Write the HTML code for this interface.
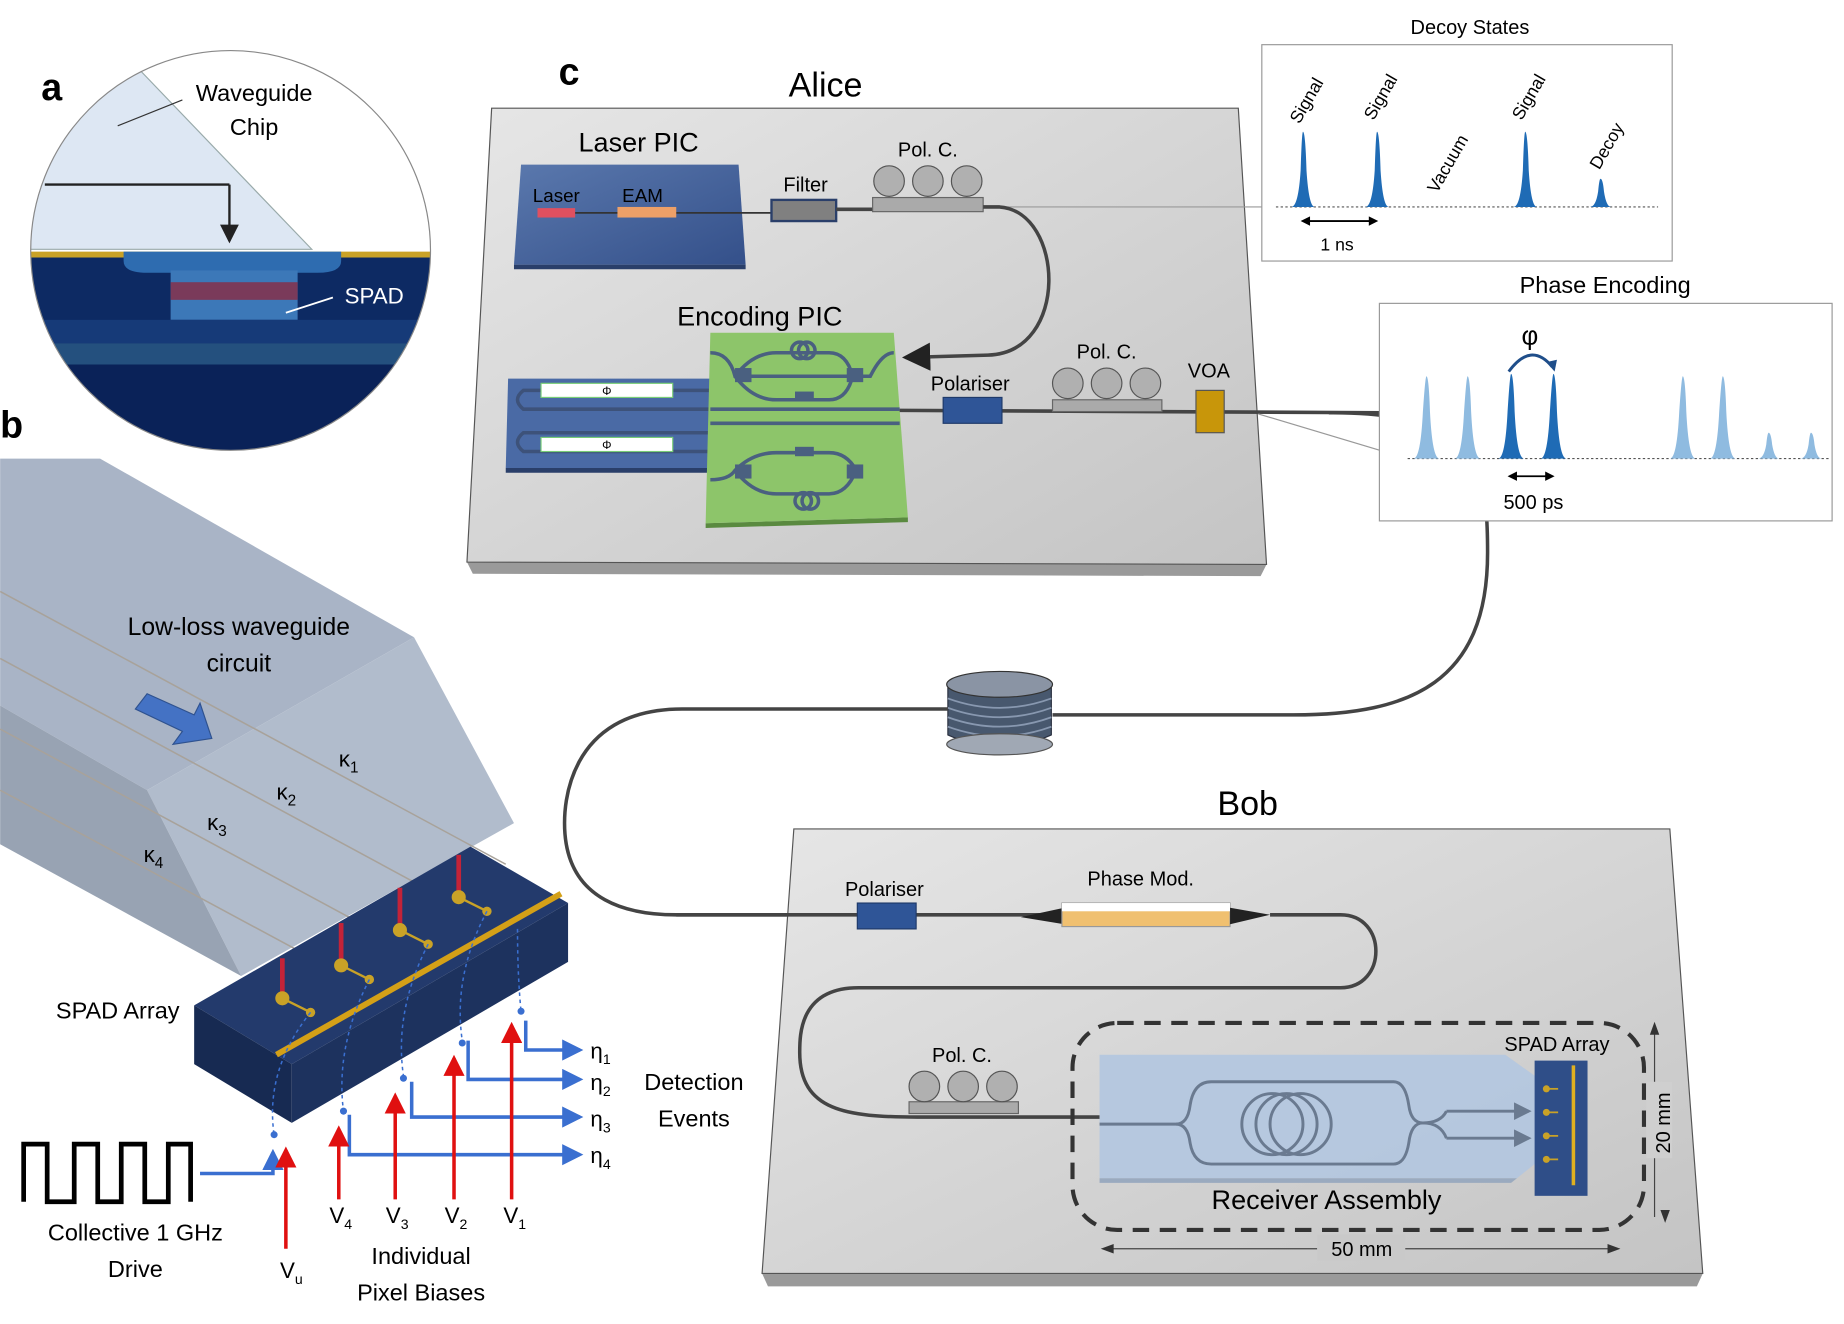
<!DOCTYPE html>
<html><head><meta charset="utf-8"><style>html,body{margin:0;padding:0;background:#fff}svg{display:block}text{font-family:"Liberation Sans",sans-serif}</style></head><body>
<svg width="1844" height="1324" viewBox="0 0 1568 1126" xmlns="http://www.w3.org/2000/svg">
<defs>
<clipPath id="cc"><circle cx="196" cy="213" r="170"/></clipPath>
<linearGradient id="bd" x1="0" y1="0" x2="1" y2="1"><stop offset="0" stop-color="#e6e6e6"/><stop offset="1" stop-color="#c4c4c4"/></linearGradient>
<linearGradient id="bl" x1="0" y1="0" x2="1" y2="1"><stop offset="0" stop-color="#5a78ad"/><stop offset="1" stop-color="#34508a"/></linearGradient>
<marker id="ak" markerWidth="8" markerHeight="8" refX="7" refY="4" orient="auto"><path d="M0,0L8,4L0,8z" fill="#222"/></marker>
<marker id="ar" markerWidth="6" markerHeight="6" refX="5" refY="3" orient="auto"><path d="M0,0L6,3L0,6z" fill="#e01010"/></marker>
<marker id="ab" markerWidth="6" markerHeight="6" refX="5" refY="3" orient="auto"><path d="M0,0L6,3L0,6z" fill="#3a6fd0"/></marker>
<marker id="ag" markerWidth="6" markerHeight="6" refX="5" refY="3" orient="auto"><path d="M0,0L6,3L0,6z" fill="#6a7a90"/></marker>
</defs>

<!-- panel a -->
<g clip-path="url(#cc)">
<rect x="20" y="40" width="360" height="350" fill="#fff"/>
<polygon points="20,40 100,40 265,212 20,212" fill="#dde7f3" stroke="#9aa" stroke-width="1"/>
<rect x="20" y="214" width="360" height="5" fill="#c9a227"/>
<rect x="20" y="219" width="360" height="170" fill="#0d2a63"/>
<path d="M105,214 H290 V222 Q290,232 270,232 H125 Q105,232 105,222z" fill="#2e6cb0"/>
<rect x="145" y="230" width="108" height="42" fill="#3c78b8"/>
<rect x="145" y="240" width="108" height="15" fill="#7a3a5a"/>
<rect x="20" y="272" width="360" height="20" fill="#163a78"/>
<rect x="20" y="292" width="360" height="18" fill="#24507e"/>
<rect x="20" y="310" width="360" height="80" fill="#0a2258"/>
</g>
<circle cx="196" cy="213" r="170" fill="none" stroke="#888" stroke-width="1"/>
<line x1="38" y1="157" x2="195" y2="157" stroke="#222" stroke-width="2"/>
<line x1="195" y1="157" x2="195" y2="205" stroke="#222" stroke-width="2" marker-end="url(#ak)"/>
<line x1="100" y1="107" x2="155" y2="85" stroke="#333" stroke-width="1"/>
<text x="216" y="86" font-size="20" text-anchor="middle">Waveguide</text>
<text x="216" y="115" font-size="20" text-anchor="middle">Chip</text>
<line x1="243" y1="266" x2="283" y2="253" stroke="#fff" stroke-width="1.5"/>
<text x="293" y="258" font-size="19" fill="#fff">SPAD</text>
<text x="35" y="85" font-size="32" font-weight="bold">a</text>

<!-- panel b -->
<text x="0" y="372" font-size="32" font-weight="bold">b</text>
<polygon points="0,390 85,390 352,542 125,672 0,600" fill="#a9b4c6"/>
<polygon points="125,672 352,542 437,700 205,830" fill="#b1bccc"/>
<polygon points="0,600 125,672 205,830 0,718" fill="#98a3b3"/>
<g stroke="#a8a29a" stroke-width="1.3">
<line x1="0" y1="503" x2="430" y2="735"/>
<line x1="0" y1="560" x2="385" y2="768"/>
<line x1="0" y1="620" x2="330" y2="798"/>
<line x1="0" y1="672" x2="275" y2="820"/>
</g>
<polygon points="125,590 165,608 170,598 180,628 147,633 155,622 115,603" fill="#4472c4" stroke="#2f528f"/>
<text x="203" y="540" font-size="21" text-anchor="middle">Low-loss waveguide</text>
<text x="203" y="571" font-size="21" text-anchor="middle">circuit</text>
<text x="288" y="652" font-size="19">κ<tspan font-size="13" dy="5">1</tspan></text>
<text x="235" y="680" font-size="19">κ<tspan font-size="13" dy="5">2</tspan></text>
<text x="176" y="706" font-size="19">κ<tspan font-size="13" dy="5">3</tspan></text>
<text x="122" y="733" font-size="19">κ<tspan font-size="13" dy="5">4</tspan></text>
<!-- SPAD block -->
<polygon points="165,855 400,720 483,768 248,905" fill="#233a6c"/>
<polygon points="165,855 248,905 248,955 165,905" fill="#172a52"/>
<polygon points="248,905 483,768 483,818 248,955" fill="#1d325e"/>
<line x1="235" y1="897" x2="477" y2="760" stroke="#d4a017" stroke-width="5"/>
<g stroke="#e02030" stroke-width="4" opacity="0.85">
<line x1="240" y1="815" x2="240" y2="848"/><line x1="290" y1="785" x2="290" y2="820"/>
<line x1="340" y1="755" x2="340" y2="790"/><line x1="390" y1="727" x2="390" y2="762"/>
</g>
<g fill="#c9a227" stroke="#c9a227" stroke-width="2">
<circle cx="240" cy="849" r="5"/><line x1="240" y1="849" x2="262" y2="860"/><circle cx="264" cy="861" r="3"/>
<circle cx="290" cy="821" r="5"/><line x1="290" y1="821" x2="312" y2="832"/><circle cx="314" cy="833" r="3"/>
<circle cx="340" cy="791" r="5"/><line x1="340" y1="791" x2="362" y2="802"/><circle cx="364" cy="803" r="3"/>
<circle cx="390" cy="763" r="5"/><line x1="390" y1="763" x2="412" y2="774"/><circle cx="414" cy="775" r="3"/>
</g>
<g fill="none" stroke="#3a6fd0" stroke-width="1.3" stroke-dasharray="3,3">
<path d="M264,861 Q225,910 233,965"/><path d="M314,833 Q285,890 292,945"/>
<path d="M364,803 Q335,860 343,915"/><path d="M414,775 Q385,830 393,885"/><path d="M440,790 Q440,830 443,860"/>
</g>
<g fill="#3a6fd0"><circle cx="233" cy="965" r="3"/><circle cx="292" cy="945" r="3"/><circle cx="343" cy="917" r="3"/><circle cx="393" cy="887" r="3"/><circle cx="443" cy="860" r="3"/></g>
<g fill="none" stroke="#3a6fd0" stroke-width="3">
<path d="M447,868 V893 H493" marker-end="url(#ab)"/>
<path d="M398,885 V918 H493" marker-end="url(#ab)"/>
<path d="M350,920 V950 H493" marker-end="url(#ab)"/>
<path d="M297,948 V982 H493" marker-end="url(#ab)"/>
<path d="M170,998 H232 V980" marker-end="url(#ab)"/>
</g>
<g stroke="#e01010" stroke-width="3">
<line x1="243" y1="1062" x2="243" y2="978" marker-end="url(#ar)"/>
<line x1="288" y1="1020" x2="288" y2="960" marker-end="url(#ar)"/>
<line x1="336" y1="1020" x2="336" y2="932" marker-end="url(#ar)"/>
<line x1="386" y1="1020" x2="386" y2="900" marker-end="url(#ar)"/>
<line x1="435" y1="1020" x2="435" y2="872" marker-end="url(#ar)"/>
</g>
<path d="M20,1022 V973 H40 V1022 H63 V973 H83 V1022 H103 V973 H123 V1022 H143 V973 H162 V1022" fill="none" stroke="#000" stroke-width="4"/>
<text x="100" y="866" font-size="20" text-anchor="middle">SPAD Array</text>
<text x="115" y="1055" font-size="20" text-anchor="middle">Collective 1 GHz</text>
<text x="115" y="1086" font-size="20" text-anchor="middle">Drive</text>
<text x="238" y="1087" font-size="19">V<tspan font-size="12" dy="5">u</tspan></text>
<text x="280" y="1040" font-size="19">V<tspan font-size="12" dy="5">4</tspan></text>
<text x="328" y="1040" font-size="19">V<tspan font-size="12" dy="5">3</tspan></text>
<text x="378" y="1040" font-size="19">V<tspan font-size="12" dy="5">2</tspan></text>
<text x="428" y="1040" font-size="19">V<tspan font-size="12" dy="5">1</tspan></text>
<text x="358" y="1075" font-size="20" text-anchor="middle">Individual</text>
<text x="358" y="1106" font-size="20" text-anchor="middle">Pixel Biases</text>
<text x="502" y="900" font-size="19">η<tspan font-size="12" dy="5">1</tspan></text>
<text x="502" y="927" font-size="19">η<tspan font-size="12" dy="5">2</tspan></text>
<text x="502" y="958" font-size="19">η<tspan font-size="12" dy="5">3</tspan></text>
<text x="502" y="989" font-size="19">η<tspan font-size="12" dy="5">4</tspan></text>
<text x="590" y="927" font-size="20" text-anchor="middle">Detection</text>
<text x="590" y="958" font-size="20" text-anchor="middle">Events</text>

<!-- panel c : Alice -->
<text x="475" y="72" font-size="32" font-weight="bold">c</text>
<text x="702" y="82" font-size="29" text-anchor="middle">Alice</text>
<polygon points="397,478 1077,480 1072,490 402,488" fill="#9a9a9a"/>
<polygon points="418,92 1053,92 1077,480 397,478" fill="url(#bd)" stroke="#555" stroke-width="1"/>
<text x="543" y="129" font-size="23" text-anchor="middle">Laser PIC</text>
<polygon points="437,225 634,225 634,229 437,229" fill="#2a3f6a"/>
<polygon points="443,140 628,140 634,225 437,225" fill="url(#bl)"/>
<text x="453" y="172" font-size="16">Laser</text>
<text x="529" y="172" font-size="16">EAM</text>
<line x1="470" y1="181" x2="656" y2="181" stroke="#333" stroke-width="1.5"/>
<rect x="457" y="177" width="32" height="8" fill="#e05060"/>
<rect x="525" y="176" width="50" height="9" fill="#eda068"/>
<text x="685" y="163" font-size="17" text-anchor="middle">Filter</text>
<rect x="656" y="170" width="55" height="18" fill="#808080" stroke="#2a3f6a" stroke-width="2"/>
<line x1="711" y1="178" x2="742" y2="178" stroke="#444" stroke-width="3"/>
<text x="789" y="133" font-size="17" text-anchor="middle">Pol. C.</text>
<rect x="742" y="168" width="94" height="12" fill="#aaa" stroke="#666"/>
<g fill="#b0b0b0" stroke="#555"><circle cx="756" cy="154" r="13"/><circle cx="789" cy="154" r="13"/><circle cx="822" cy="154" r="13"/></g>
<line x1="836" y1="176" x2="1085" y2="176" stroke="#999" stroke-width="1"/>
<path d="M836,176 H850 C905,180 910,300 840,302 L770,304" fill="none" stroke="#444" stroke-width="3" marker-end="url(#ak)"/>
<polygon points="432,322 604,322 604,398 430,398" fill="#4a6aa5"/>
<polygon points="430,398 604,398 604,402 430,402" fill="#2a3f6a"/>
<g fill="none" stroke="#3d527a" stroke-width="3">
<path d="M604,332 H445 Q435,340 445,348 H604"/><path d="M604,368 H445 Q435,376 445,384 H604"/>
</g>
<rect x="460" y="326" width="112" height="12" fill="#fff" stroke="#7c7"/>
<rect x="460" y="372" width="112" height="12" fill="#fff" stroke="#7c7"/>
<text x="516" y="336" font-size="10" text-anchor="middle">Φ</text>
<text x="516" y="382" font-size="10" text-anchor="middle">Φ</text>
<text x="646" y="277" font-size="23" text-anchor="middle">Encoding PIC</text>
<polygon points="600,445 772,440 772,444 600,449" fill="#5a8a40"/>
<polygon points="604,283 760,283 772,440 600,445" fill="#8dc56a"/>
<g fill="none" stroke="#4a6080" stroke-width="3">
<path d="M604,300 Q620,300 625,320 H740 Q750,300 760,300"/>
<path d="M625,320 Q640,300 660,300 H705 Q720,300 725,320 Q720,340 705,340 H660 Q640,340 625,320"/>
<path d="M604,348 H765"/>
<path d="M604,360 H765"/>
<path d="M604,408 Q620,408 625,400 Q640,385 660,385 H705 Q720,385 728,400 Q720,420 705,420 H660 Q640,420 625,400"/>
<circle cx="680" cy="298" r="7"/><circle cx="686" cy="298" r="7"/><circle cx="683" cy="426" r="7"/><circle cx="689" cy="426" r="7"/>
</g>
<g fill="#4a6080"><rect x="625" y="313" width="14" height="12"/><rect x="720" y="313" width="14" height="12"/><rect x="676" y="333" width="16" height="8"/><rect x="676" y="380" width="16" height="8"/><rect x="625" y="395" width="14" height="12"/><rect x="720" y="395" width="14" height="12"/></g>
<line x1="765" y1="349" x2="1175" y2="351" stroke="#444" stroke-width="3"/>
<text x="825" y="332" font-size="17" text-anchor="middle">Polariser</text>
<rect x="802" y="338" width="50" height="22" fill="#2f5597" stroke="#1f3a6a"/>
<text x="941" y="305" font-size="17" text-anchor="middle">Pol. C.</text>
<rect x="895" y="340" width="93" height="10" fill="#aaa" stroke="#666"/>
<g fill="#b0b0b0" stroke="#555"><circle cx="908" cy="326" r="13"/><circle cx="941" cy="326" r="13"/><circle cx="974" cy="326" r="13"/></g>
<text x="1028" y="321" font-size="17" text-anchor="middle">VOA</text>
<rect x="1017" y="332" width="24" height="36" fill="#c8960a" stroke="#555"/>
<line x1="1070" y1="352" x2="1197" y2="390" stroke="#999" stroke-width="1"/>
<path d="M1130,351 C1260,350 1265,400 1265,470 C1265,580 1200,608 1100,608 H895" fill="none" stroke="#444" stroke-width="3"/>

<!-- coil -->
<g fill="#4a5a70" stroke="#2a3040" stroke-width="1">
<path d="M806,585 V625 Q850,645 894,625 V585z" fill="#48586e"/>
</g>
<g fill="none" stroke="#8898b0" stroke-width="1.5">
<path d="M806,594 Q850,610 894,594"/><path d="M806,602 Q850,618 894,602"/><path d="M806,610 Q850,626 894,610"/><path d="M806,618 Q850,634 894,618"/>
</g>
<ellipse cx="850" cy="582" rx="45" ry="11" fill="#8a94a4" stroke="#333"/>
<ellipse cx="850" cy="633" rx="45" ry="9" fill="#a0a8b4" stroke="#555"/>
<path d="M806,603 H580 C480,603 480,690 480,700 C480,770 540,778 575,778 H730" fill="none" stroke="#444" stroke-width="3"/>

<!-- Bob -->
<text x="1061" y="693" font-size="29" text-anchor="middle">Bob</text>
<polygon points="648,1083 1448,1083 1443,1094 653,1094" fill="#9a9a9a"/>
<polygon points="675,705 1420,705 1448,1083 648,1083" fill="url(#bd)" stroke="#555"/>
<text x="752" y="762" font-size="17" text-anchor="middle">Polariser</text>
<line x1="575" y1="778" x2="905" y2="778" stroke="#444" stroke-width="3"/>
<rect x="729" y="768" width="50" height="22" fill="#2f5597" stroke="#1f3a6a"/>
<polygon points="868,780 905,772 905,786" fill="#222"/>
<text x="970" y="753" font-size="17" text-anchor="middle">Phase Mod.</text>
<rect x="903" y="768" width="143" height="20" fill="#f0c070" stroke="#999"/>
<rect x="903" y="768" width="143" height="7" fill="#fff"/>
<polygon points="1046,772 1080,778 1046,786" fill="#222"/>
<path d="M1080,778 H1140 C1180,778 1180,840 1140,840 H730 C680,840 680,880 680,895 C680,945 720,950 780,950 H935" fill="none" stroke="#444" stroke-width="3"/>
<text x="818" y="903" font-size="17" text-anchor="middle">Pol. C.</text>
<rect x="773" y="937" width="93" height="10" fill="#aaa" stroke="#666"/>
<g fill="#b0b0b0" stroke="#555"><circle cx="786" cy="924" r="13"/><circle cx="819" cy="924" r="13"/><circle cx="852" cy="924" r="13"/></g>
<rect x="912" y="870" width="486" height="176" rx="38" fill="none" stroke="#333" stroke-width="3.5" stroke-dasharray="14,9"/>
<polygon points="935,897 1280,897 1315,922 1315,982 1290,1002 935,1002" fill="#b3c6e0" opacity="0.9"/>
<polygon points="935,1002 1290,1002 1285,1006 935,1006" fill="#9aaabf"/>
<g fill="none" stroke="#6a7a90" stroke-width="2.5">
<path d="M935,956 H1000 Q1010,956 1012,940 Q1015,920 1030,920 H1185 Q1195,920 1198,940 Q1200,955 1210,955 Q1225,955 1230,945"/>
<path d="M1000,956 Q1010,956 1012,972 Q1015,990 1030,990 H1185 Q1195,990 1198,972 Q1200,955 1210,955 Q1225,955 1230,968"/>
<circle cx="1082" cy="956" r="26"/><circle cx="1094" cy="956" r="26"/><circle cx="1106" cy="956" r="26"/>
<path d="M1230,945 H1300" marker-end="url(#ag)"/><path d="M1230,968 H1300" marker-end="url(#ag)"/>
</g>
<rect x="1305" y="902" width="45" height="115" fill="#2f4e88"/>
<line x1="1338" y1="906" x2="1338" y2="1008" stroke="#e0b020" stroke-width="3"/>
<g fill="#c9a227"><circle cx="1315" cy="926" r="3"/><circle cx="1315" cy="946" r="3"/><circle cx="1315" cy="966" r="3"/><circle cx="1315" cy="986" r="3"/></g>
<g stroke="#c9a227" stroke-width="1.5"><line x1="1315" y1="926" x2="1325" y2="926"/><line x1="1315" y1="946" x2="1325" y2="946"/><line x1="1315" y1="966" x2="1325" y2="966"/><line x1="1315" y1="986" x2="1325" y2="986"/></g>
<text x="1324" y="894" font-size="17" text-anchor="middle">SPAD Array</text>
<text x="1128" y="1028" font-size="23" text-anchor="middle">Receiver Assembly</text>
<line x1="1407" y1="875" x2="1407" y2="1035" stroke="#444" stroke-width="1"/>
<polygon points="1407,869 1403,880 1411,880" fill="#333"/><polygon points="1416,1040 1412,1029 1420,1029" fill="#333"/>
<rect x="1400" y="920" width="22" height="65" fill="#cfcfcf"/>
<text x="1420" y="955" font-size="17" text-anchor="middle" transform="rotate(-90 1420 955)">20 mm</text>
<line x1="940" y1="1062" x2="1375" y2="1062" stroke="#444" stroke-width="1"/>
<polygon points="936,1062 947,1058 947,1066" fill="#333"/><polygon points="1378,1062 1367,1058 1367,1066" fill="#333"/>
<rect x="1120" y="1050" width="75" height="22" fill="#c9c9c9"/>
<text x="1158" y="1068" font-size="17" text-anchor="middle">50 mm</text>

<!-- Decoy box -->
<text x="1250" y="29" font-size="17" text-anchor="middle">Decoy States</text>
<rect x="1073" y="38" width="349" height="184" fill="#fff" stroke="#999"/>
<line x1="1085" y1="176" x2="1410" y2="176" stroke="#555" stroke-dasharray="2,2"/>
<g fill="#1f6bb5">
<path d="M1098,176 Q1104,176 1106,145 Q1107,112 1108,112 Q1110,112 1111,145 Q1113,176 1118,176z"/>
<path d="M1161,176 Q1167,176 1169,145 Q1170,112 1171,112 Q1173,112 1174,145 Q1176,176 1181,176z"/>
<path d="M1287,176 Q1293,176 1295,145 Q1296,112 1297,112 Q1299,112 1300,145 Q1302,176 1307,176z"/>
<path d="M1352,176 Q1357,176 1359,163 Q1360,152 1361,152 Q1363,152 1364,163 Q1366,176 1370,176z"/>
</g>
<g font-size="15">
<text x="1105" y="106" transform="rotate(-60 1105 106)">Signal</text>
<text x="1168" y="103" transform="rotate(-60 1168 103)">Signal</text>
<text x="1222" y="165" transform="rotate(-60 1222 165)">Vacuum</text>
<text x="1294" y="103" transform="rotate(-60 1294 103)">Signal</text>
<text x="1360" y="145" transform="rotate(-60 1360 145)">Decoy</text>
</g>
<line x1="1110" y1="188" x2="1168" y2="188" stroke="#000" stroke-width="1.5"/>
<polygon points="1106,188 1114,184 1114,192"/><polygon points="1172,188 1164,184 1164,192"/>
<text x="1137" y="213" font-size="15" text-anchor="middle">1 ns</text>

<!-- Phase box -->
<text x="1365" y="249" font-size="20" text-anchor="middle">Phase Encoding</text>
<rect x="1173" y="258" width="385" height="185" fill="#fff" stroke="#999"/>
<line x1="1197" y1="390" x2="1555" y2="390" stroke="#555" stroke-dasharray="2,2"/>
<g fill="#8fbbe0">
<path d="M1202,390 Q1208,390 1210,350 Q1212,320 1213,320 Q1215,320 1216,350 Q1218,390 1224,390z"/>
<path d="M1237,390 Q1243,390 1245,350 Q1247,320 1248,320 Q1250,320 1251,350 Q1253,390 1259,390z"/>
<path d="M1420,390 Q1426,390 1428,350 Q1430,320 1431,320 Q1433,320 1434,350 Q1436,390 1442,390z"/>
<path d="M1454,390 Q1460,390 1462,350 Q1464,320 1465,320 Q1467,320 1468,350 Q1470,390 1476,390z"/>
<path d="M1495,390 Q1500,390 1502,378 Q1503,368 1504,368 Q1506,368 1507,378 Q1509,390 1513,390z"/>
<path d="M1531,390 Q1536,390 1538,378 Q1539,368 1540,368 Q1542,368 1543,378 Q1545,390 1549,390z"/>
</g>
<g fill="#1f6bb5">
<path d="M1274,390 Q1280,390 1282,350 Q1284,318 1285,318 Q1287,318 1288,350 Q1290,390 1296,390z"/>
<path d="M1310,390 Q1316,390 1318,350 Q1320,318 1321,318 Q1323,318 1324,350 Q1326,390 1332,390z"/>
</g>
<path d="M1283,316 Q1302,290 1320,312" fill="none" stroke="#1f4e8a" stroke-width="2.5"/>
<polygon points="1322,316 1315,308 1324,306" fill="#1f4e8a"/>
<text x="1301" y="293" font-size="22" text-anchor="middle">φ</text>
<line x1="1286" y1="405" x2="1318" y2="405" stroke="#000" stroke-width="1.5"/>
<polygon points="1282,405 1290,401 1290,409"/><polygon points="1322,405 1314,401 1314,409"/>
<text x="1304" y="433" font-size="17" text-anchor="middle">500 ps</text>
</svg>
</body></html>
